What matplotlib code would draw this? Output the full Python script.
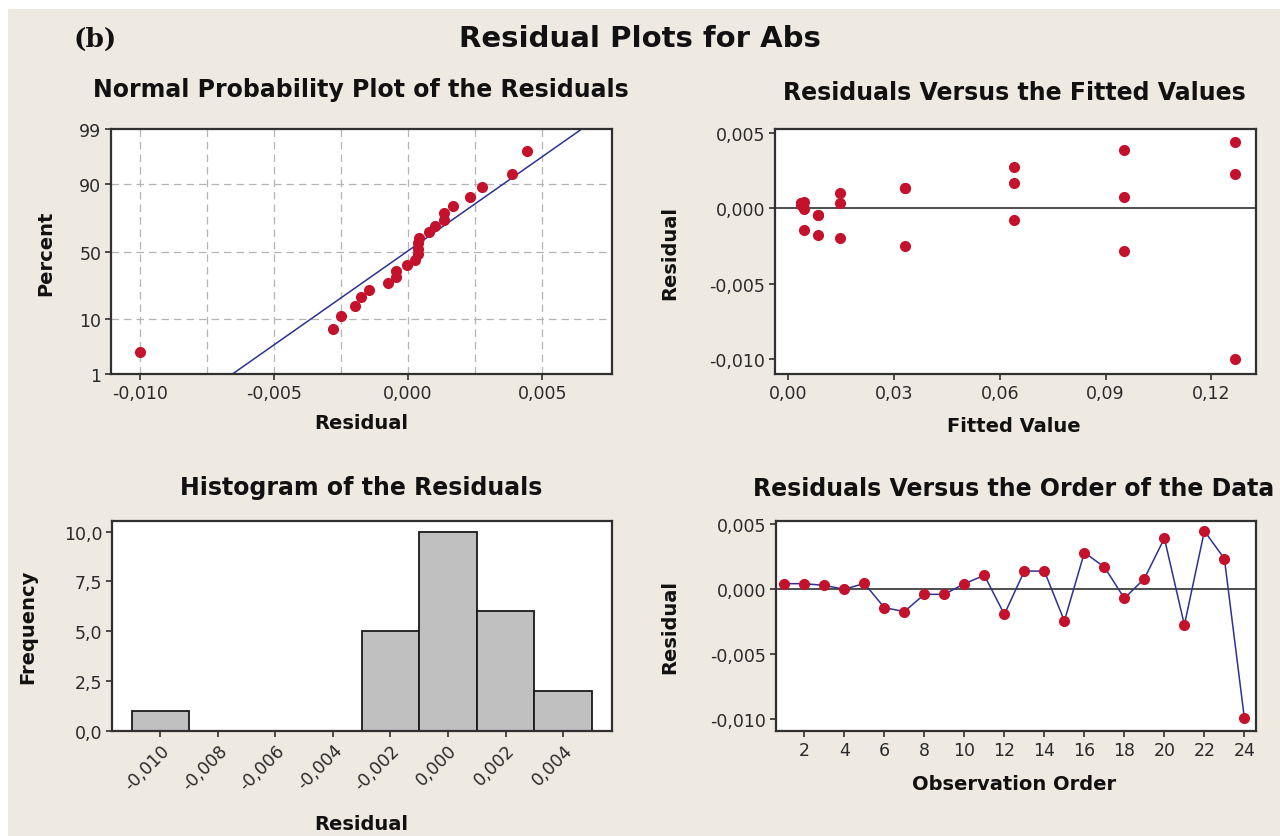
import matplotlib
matplotlib.use("Agg")
from statistics import NormalDist

import matplotlib.pyplot as plt
import numpy as np
from matplotlib.patches import Rectangle
from matplotlib.ticker import FixedLocator, FuncFormatter

# Residuos (ordem de observacao 1..24)
observation = np.arange(1, 25)
residuals = np.array([
    0.00038, 0.00038, 0.00025, -0.00005, 0.00040, -0.00146,
    -0.00177, -0.00044, -0.00044, 0.00038, 0.00102, -0.00198,
    0.00135, 0.00135, -0.00249, 0.00277, 0.00166, -0.00075,
    0.00077, 0.00387, -0.00280, 0.00443, 0.00230, -0.00998,
])
fitted = np.array([
    0.0035, 0.0035, 0.0035, 0.0045, 0.0045, 0.0045,
    0.0083, 0.0083, 0.0083, 0.0147, 0.0147, 0.0147,
    0.0331, 0.0331, 0.0331, 0.0641, 0.0641, 0.0641,
    0.0953, 0.0953, 0.0953, 0.1267, 0.1267, 0.1267,
])
hist_centers = [-0.010, -0.008, -0.006, -0.004, -0.002, 0.000, 0.002, 0.004]
percent_ticks = [1, 10, 50, 90, 99]
prob_x_ticks = [-0.010, -0.005, 0.000, 0.005]
prob_x_grid = [-0.010, -0.0075, -0.005, -0.0025, 0.000, 0.0025, 0.005]
fitted_ticks = [0.00, 0.03, 0.06, 0.09, 0.12]
resid_ticks = [-0.010, -0.005, 0.000, 0.005]
order_ticks = [2, 4, 6, 8, 10, 12, 14, 16, 18, 20, 22, 24]
freq_ticks = [0.0, 2.5, 5.0, 7.5, 10.0]

W, H = 1280, 837
BG = "#eee9e1"
DOT = "#c4122c"
LINE = "#2e3192"
INK = "#2a2a2a"
GRID = "#b4b4b4"

plt.rcParams["font.family"] = "DejaVu Sans"


def fx(x):
    return x / W


def fy(y):
    return 1 - y / H


def box(x0, y0, x1, y1):
    return [fx(x0), fy(y1), (x1 - x0) / W, (y1 - y0) / H]


def comma(fmt):
    def _f(v, _pos):
        if abs(v) < 1e-12:
            v = 0.0
        return (fmt % v).replace(".", ",")
    return FuncFormatter(_f)


def style_axes(ax):
    ax.set_facecolor("white")
    for s in ax.spines.values():
        s.set_linewidth(1.6)
        s.set_color("#303030")
    ax.tick_params(direction="out", length=4, width=1.2, color="#303030",
                   labelsize=12.5, labelcolor=INK, pad=3)


fig = plt.figure(figsize=(W / 100, H / 100), dpi=100, facecolor="white")
fig.patches.append(Rectangle((fx(8), 0), 1, fy(10), transform=fig.transFigure,
                             facecolor=BG, edgecolor="none", zorder=-10))

fig.text(fx(73), fy(47), "(b)", family="DejaVu Serif", fontweight="bold",
         fontsize=19, ha="left", va="baseline", color="#111111")
fig.text(fx(640), fy(47), "Residual Plots for Abs", fontweight="bold",
         fontsize=21, ha="center", va="baseline", color="#111111")

titles = [
    ("Normal Probability Plot of the Residuals", 361, 97),
    ("Residuals Versus the Fitted Values", 1014, 100),
    ("Histogram of the Residuals", 361, 495),
    ("Residuals Versus the Order of the Data", 1014, 496),
]
for txt, x, y in titles:
    fig.text(fx(x), fy(y), txt, fontweight="bold", fontsize=17, ha="center",
             va="baseline", color="#111111")

labels = [
    ("Residual", 361, 429, 0),
    ("Percent", 46, 253, 90),
    ("Fitted Value", 1014, 432, 0),
    ("Residual", 670, 253, 90),
    ("Residual", 361, 830, 0),
    ("Frequency", 28, 627, 90),
    ("Observation Order", 1014, 790, 0),
    ("Residual", 670, 627, 90),
]
for txt, x, y, rot in labels:
    fig.text(fx(x), fy(y), txt, fontweight="bold", fontsize=14, rotation=rot,
             ha="center", va="baseline" if rot == 0 else "center", color="#111111")

# --- Normal probability plot
nd = NormalDist()
n = len(residuals)
sorted_res = np.sort(residuals)
ranks = (np.arange(1, n + 1) - 0.3) / (n + 0.4)
z_pts = np.array([nd.inv_cdf(p) for p in ranks])
z_lo, z_hi = nd.inv_cdf(0.01), nd.inv_cdf(0.99)
mu, sd = residuals.mean(), residuals.std(ddof=1)

ax1 = fig.add_axes(box(111, 130, 612, 375))
style_axes(ax1)
ax1.set_xlim(-0.01107, 0.0076)
ax1.set_ylim(z_lo, z_hi)
ax1.xaxis.set_major_locator(FixedLocator(prob_x_ticks))
ax1.xaxis.set_major_formatter(comma("%.3f"))
ax1.set_yticks([nd.inv_cdf(p / 100) for p in percent_ticks])
ax1.set_yticklabels([str(p) for p in percent_ticks])
for gx in prob_x_grid:
    ax1.axvline(gx, color=GRID, linestyle=(0, (6, 4)), lw=0.9, zorder=0.5)
for p in percent_ticks[1:-1]:
    ax1.axhline(nd.inv_cdf(p / 100), color=GRID, linestyle=(0, (6, 4)), lw=0.9, zorder=0.5)
zz = np.array([z_lo, z_hi])
ax1.plot(mu + sd * zz, zz, color=LINE, lw=1.1, zorder=2)
ax1.plot(sorted_res, z_pts, "o", color=DOT, ms=7, zorder=3)

# --- Residuals vs fitted
ax2 = fig.add_axes(box(775, 130, 1256, 375))
style_axes(ax2)
ax2.set_xlim(-0.0038, 0.1327)
ax2.set_ylim(-0.0110, 0.00527)
ax2.set_xticks(fitted_ticks)
ax2.set_yticks(resid_ticks)
ax2.xaxis.set_major_formatter(comma("%.2f"))
ax2.yaxis.set_major_formatter(comma("%.3f"))
ax2.axhline(0, color="#404040", lw=1.3, zorder=1)
ax2.plot(fitted, residuals, "o", color=DOT, ms=7, zorder=3)

# --- Histogram
edges = [c - 0.001 for c in hist_centers] + [hist_centers[-1] + 0.001]
ax3 = fig.add_axes(box(112, 522, 612, 732))
style_axes(ax3)
ax3.hist(residuals, bins=edges, color="#c0c0c0", edgecolor="#1a1a1a", linewidth=1.3)
ax3.set_xlim(-0.01168, 0.0057)
ax3.set_ylim(0, 10.53)
ax3.set_xticks(hist_centers)
ax3.xaxis.set_major_formatter(comma("%.3f"))
ax3.set_yticks(freq_ticks)
ax3.yaxis.set_major_formatter(comma("%.1f"))
for lab in ax3.get_xticklabels():
    lab.set_rotation(45)
    lab.set_ha("right")
    lab.set_va("top")
    lab.set_rotation_mode("anchor")

# --- Residuals vs order
ax4 = fig.add_axes(box(776, 522, 1256, 732))
style_axes(ax4)
ax4.set_xlim(0.585, 24.58)
ax4.set_ylim(-0.01095, 0.0052)
ax4.set_xticks(order_ticks)
ax4.set_yticks(resid_ticks)
ax4.yaxis.set_major_formatter(comma("%.3f"))
ax4.axhline(0, color="#404040", lw=1.3, zorder=1)
ax4.plot(observation, residuals, "-", color=LINE, lw=1.1, zorder=2)
ax4.plot(observation, residuals, "o", color=DOT, ms=7, zorder=3)

fig.savefig("out.png", dpi=100, facecolor=fig.get_facecolor())
